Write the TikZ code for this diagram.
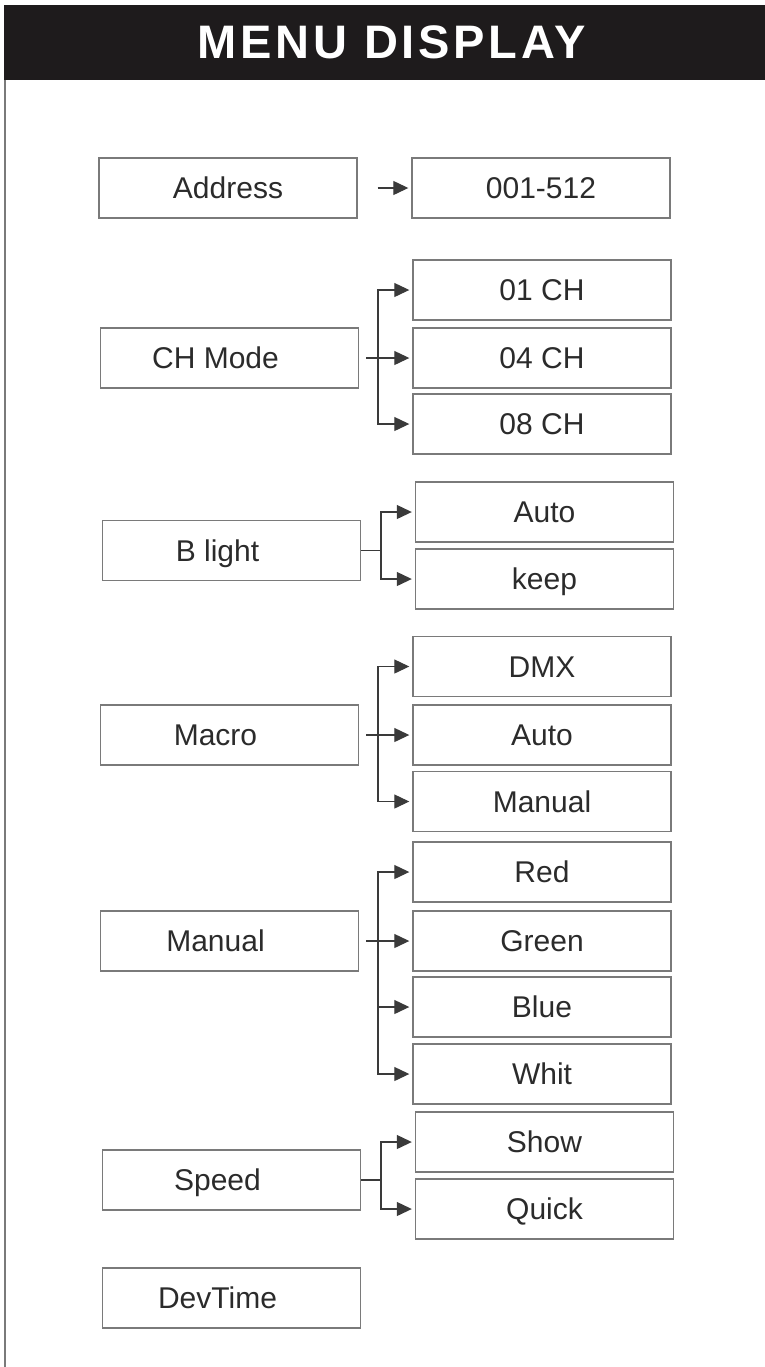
\documentclass[tikz,border=0pt]{standalone}
\usepackage{fontspec}
\setmainfont{Liberation Sans}
\newfontfamily\fontetitulo[LetterSpace=8]{Liberation Sans}
\usetikzlibrary{arrows.meta}
\definecolor{cor_faixa}{HTML}{1E1B1C}
\definecolor{cor_borda}{HTML}{7A7A7A}
\definecolor{cor_texto}{HTML}{2B2B2B}
\definecolor{cor_seta}{HTML}{3A3A3A}

\begin{document}
\begin{tikzpicture}[x=0.5pt,y=-0.5pt]
        \tikzset{
            caixa/.style={
                draw=cor_borda,
                line width=0.7pt,
                minimum width=129pt,
                minimum height=30pt,
                inner sep=0pt,
                text=cor_texto,
                text height=10.7pt,
                text depth=0pt,
                font=\fontsize{15}{18}\selectfont
            },
            menu/.style={
                caixa,
                execute at end node={\hspace*{14pt}}
            },
            liga/.style={
                draw=cor_seta,
                line width=0.6pt
            },
            seta/.style={
                liga,
                -{Triangle[length=7.5pt,width=7pt]},
                shorten >=1.5pt
            }
        }
        \useasboundingbox (0,0) rectangle (765,1367);

        %titulo
        \fill[cor_faixa] (4,5) rectangle (765,80);
        \node[text=white, font=\fontetitulo\bfseries\fontsize{23.5}{28}\selectfont] (titulo) at (392,42) {MENU DISPLAY};
        \draw[cor_borda, line width=0.8pt] (5,80) -- (5,1367);

        %1
        \node[caixa] (endereco) at (228,188) {Address};
        \node[caixa] (end_valor) at (541,188) {001-512};
        \draw[seta, shorten <=10pt] (endereco) -- (end_valor);

        %2
        \node[menu] (modo) at (229.5,358) {CH Mode};
        \node[caixa] (ch01) at (542,290) {01 CH};
        \node[caixa] (ch04) at (542,358) {04 CH};
        \node[caixa] (ch08) at (542,424) {08 CH};
        \coordinate (modo_ramo) at (378,358);
        \draw[liga, shorten <=3.5pt] (modo) -- (modo_ramo);
        \draw[seta] (modo_ramo) |- (ch01);
        \draw[seta] (modo_ramo) -- (ch04);
        \draw[seta] (modo_ramo) |- (ch08);

        %3
        \node[menu] (luz) at (231.5,550.5) {B light};
        \node[caixa] (luz_auto) at (544.5,512) {Auto};
        \node[caixa] (luz_keep) at (544.5,579) {keep};
        \coordinate (luz_ramo) at (381,550.5);
        \draw[liga] (luz) -- (luz_ramo);
        \draw[seta] (luz_ramo) |- (luz_auto);
        \draw[seta] (luz_ramo) |- (luz_keep);

        %4
        \node[menu] (macro) at (229.5,735) {Macro};
        \node[caixa] (mac_dmx) at (542,666.5) {DMX};
        \node[caixa] (mac_auto) at (542,735) {Auto};
        \node[caixa] (mac_manual) at (542,801.5) {Manual};
        \coordinate (macro_ramo) at (378,735);
        \draw[liga, shorten <=3.5pt] (macro) -- (macro_ramo);
        \draw[seta] (macro_ramo) |- (mac_dmx);
        \draw[seta] (macro_ramo) -- (mac_auto);
        \draw[seta] (macro_ramo) |- (mac_manual);

        %5
        \node[menu] (manual) at (229.5,941) {Manual};
        \node[caixa] (vermelho) at (542,872) {Red};
        \node[caixa] (verde) at (542,941) {Green};
        \node[caixa] (azul) at (542,1007) {Blue};
        \node[caixa] (branco) at (542,1074) {Whit};
        \coordinate (manual_ramo) at (378,941);
        \draw[liga, shorten <=3.5pt] (manual) -- (manual_ramo);
        \draw[seta] (manual_ramo) |- (vermelho);
        \draw[seta] (manual_ramo) -- (verde);
        \draw[seta] (manual_ramo) |- (azul);
        \draw[seta] (manual_ramo) |- (branco);

        %6
        \node[menu] (veloc) at (231.5,1180) {Speed};
        \node[caixa] (vel_show) at (544.5,1142) {Show};
        \node[caixa] (vel_quick) at (544.5,1209) {Quick};
        \coordinate (veloc_ramo) at (381,1180);
        \draw[liga] (veloc) -- (veloc_ramo);
        \draw[seta] (veloc_ramo) |- (vel_show);
        \draw[seta] (veloc_ramo) |- (vel_quick);

        %7
        \node[menu] (devtime) at (231.5,1298) {DevTime};

    \end{tikzpicture}
\end{document}
